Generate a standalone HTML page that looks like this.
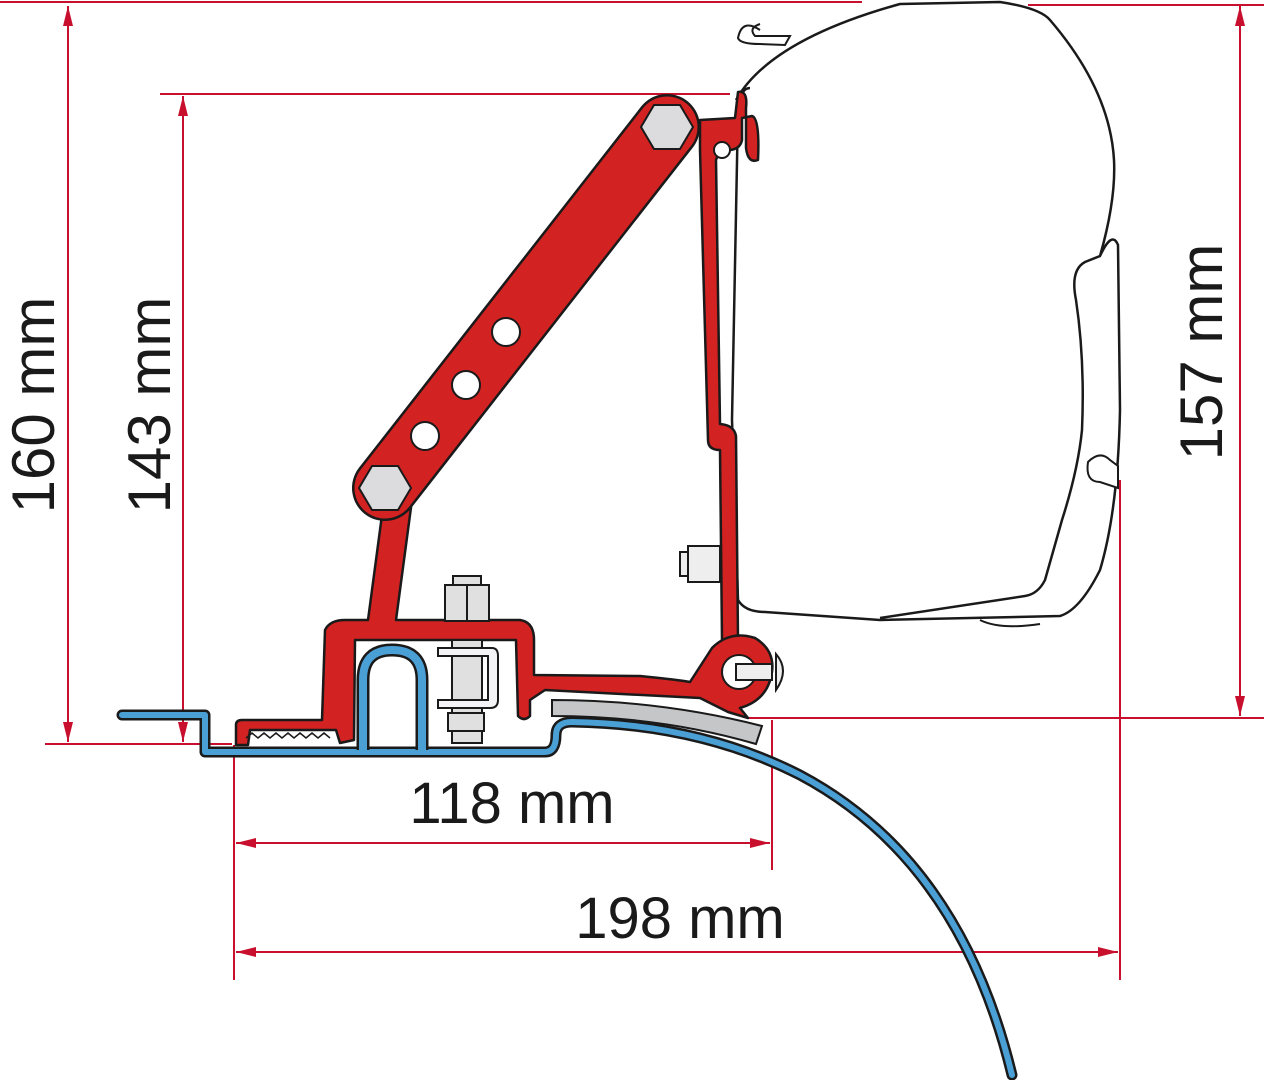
<!DOCTYPE html>
<html><head><meta charset="utf-8"><style>
html,body{margin:0;padding:0;background:#fff;width:1264px;height:1080px;overflow:hidden}
svg{display:block}
text{font-family:"Liberation Sans",Arial,sans-serif;fill:#1a1a1a}
</style></head><body>
<svg width="1264" height="1080" viewBox="0 0 1264 1080" xmlns="http://www.w3.org/2000/svg">
<defs>
<marker id="a" viewBox="0 0 20 10" refX="20" refY="5" markerWidth="20" markerHeight="10" markerUnits="userSpaceOnUse" orient="auto"><path d="M0,0 L20,5 L0,10 z" fill="#c8102e"/></marker>
</defs>
<g stroke="#c8102e" stroke-width="2" fill="none">
<line x1="0" y1="2" x2="862" y2="2"/>
<line x1="160" y1="94" x2="730" y2="94"/>
<line x1="1028" y1="5" x2="1264" y2="5"/>
<line x1="748" y1="718" x2="1264" y2="718"/>
<line x1="45" y1="744" x2="232" y2="744"/>
<line x1="234" y1="745" x2="234" y2="980"/>
<line x1="772" y1="720" x2="772" y2="870"/>
<line x1="1120" y1="480" x2="1120" y2="980"/>
<line x1="68" y1="380" x2="68" y2="6" marker-end="url(#a)"/>
<line x1="68" y1="380" x2="68" y2="742" marker-end="url(#a)"/>
<line x1="183" y1="400" x2="183" y2="96" marker-end="url(#a)"/>
<line x1="183" y1="400" x2="183" y2="742" marker-end="url(#a)"/>
<line x1="1240" y1="360" x2="1240" y2="6" marker-end="url(#a)"/>
<line x1="1240" y1="360" x2="1240" y2="716" marker-end="url(#a)"/>
<line x1="500" y1="843" x2="236" y2="843" marker-end="url(#a)"/>
<line x1="500" y1="843" x2="770" y2="843" marker-end="url(#a)"/>
<line x1="680" y1="952" x2="236" y2="952" marker-end="url(#a)"/>
<line x1="680" y1="952" x2="1118" y2="952" marker-end="url(#a)"/>
</g>
<text x="0" y="0" font-size="60" text-anchor="middle" transform="translate(54,405) rotate(-90)">160 mm</text>
<text x="0" y="0" font-size="60" text-anchor="middle" transform="translate(170,405) rotate(-90)">143 mm</text>
<text x="0" y="0" font-size="60" text-anchor="middle" transform="translate(1222,352) rotate(-90)">157 mm</text>
<text x="512" y="823" font-size="58" text-anchor="middle">118 mm</text>
<text x="680" y="938" font-size="58" text-anchor="middle">198 mm</text>

<!-- cassette -->
<path d="M750,88 Q740,88 738,110 L732,420 L738,600 Q745,612 765,612 L880,620 L1060,616 Q1080,610 1100,570 Q1118,510 1120,410 L1118,245 Q1112,230 1100,256 L1085,262 Q1070,270 1076,300 Q1085,360 1082,430 Q1078,470 1062,520 L1045,580 Q1038,594 1025,596 L880,618 M736,100 Q770,40 900,4 L1000,2 Q1040,8 1050,20 Q1110,90 1114,160 Q1116,200 1100,256" fill="#fff" stroke="#1a1a1a" stroke-width="2.5"/>
<path d="M1088,462 Q1100,450 1110,460 L1118,466 L1118,488 L1100,482 Q1085,482 1088,462 z" fill="#fff" stroke="#1a1a1a" stroke-width="2"/>
<path d="M760,30 Q742,18 738,38 Q740,44 760,44 L785,45 L790,36 L755,36 Q748,28 760,24" fill="none" stroke="#1a1a1a" stroke-width="2"/>
<path d="M980,620 Q1000,630 1040,624" fill="none" stroke="#1a1a1a" stroke-width="2"/>

<!-- bolt on bracket -->
<rect x="680" y="552" width="10" height="24" fill="#eee" stroke="#1a1a1a" stroke-width="2"/>
<rect x="688" y="546" width="32" height="36" fill="#eee" stroke="#1a1a1a" stroke-width="2"/>

<!-- vertical red bracket -->
<path d="M700,150 L708,440 Q708,450 720,450 L722,640 L738,640 L736,436 Q734,425 720,424 L716,160 Q720,148 728,150 Q740,150 742,140 L742,118 L752,116 Q760,118 758,160 Q748,164 746,148 L746,108 Q748,90 738,92 L735,118 L700,120 z" fill="#d22222" stroke="#1a1a1a" stroke-width="2.5" stroke-linejoin="round"/>
<circle cx="722" cy="150" r="8" fill="#fff" stroke="#1a1a1a" stroke-width="2"/>

<!-- red base -->
<path d="M236,725 Q236,720 242,720 L322,720 L325,630 Q330,620 345,620 L368,620 L384,500 L412,500 L396,620 L520,620 Q534,622 534,640 L534,675 L640,676 Q680,680 690,682 L712,648 Q730,630 755,638 Q775,650 772,672 Q768,700 740,708 L748,718 L728,712 L700,698 L545,690 L530,700 L530,716 Q524,722 518,716 L516,640 L355,640 L354,740 L340,743 L336,730 L250,730 L248,745 L236,745 z" fill="#d22222" stroke="#1a1a1a" stroke-width="2.5" stroke-linejoin="round"/>

<!-- arm -->
<line x1="667" y1="127" x2="385" y2="488" stroke="#1a1a1a" stroke-width="66" stroke-linecap="round"/>
<line x1="667" y1="127" x2="385" y2="488" stroke="#d22222" stroke-width="61" stroke-linecap="round"/>
<polygon points="641,127 654,105 680,105 693,127 680,149 654,149" fill="#dcdcde" stroke="#1a1a1a" stroke-width="2"/>
<polygon points="359,488 372,466 398,466 411,488 398,510 372,510" fill="#dcdcde" stroke="#1a1a1a" stroke-width="2"/>
<circle cx="506" cy="332" r="14" fill="#fff" stroke="#1a1a1a" stroke-width="2"/>
<circle cx="466" cy="385" r="14" fill="#fff" stroke="#1a1a1a" stroke-width="2"/>
<circle cx="425" cy="436" r="14" fill="#fff" stroke="#1a1a1a" stroke-width="2"/>

<!-- base bolt -->
<rect x="453" y="576" width="28" height="10" fill="#e0e0e0" stroke="#1a1a1a" stroke-width="2"/>
<rect x="445" y="585" width="44" height="36" fill="#e0e0e0" stroke="#1a1a1a" stroke-width="2"/>
<line x1="467" y1="585" x2="467" y2="621" stroke="#1a1a1a" stroke-width="2"/>

<path d="M246,738 L252,733 L258,738 L264,733 L270,738 L276,733 L282,738 L288,733 L294,738 L300,733 L306,738 L312,733 L318,738 L324,733 L330,738" fill="none" stroke="#1a1a1a" stroke-width="1.5"/>
<circle cx="739" cy="672" r="17" fill="#fff" stroke="#1a1a1a" stroke-width="2"/>
<rect x="736" y="664" width="36" height="16" fill="#eee" stroke="#1a1a1a" stroke-width="2"/>
<path d="M776,654 Q790,670 776,690 z" fill="#eee" stroke="#1a1a1a" stroke-width="2"/>

<!-- clamp -->
<rect x="452" y="640" width="30" height="103" fill="#e0e0e0" stroke="#1a1a1a" stroke-width="2"/>
<path d="M408,648 L462,648 Q468,648 468,656 L468,700 Q468,708 460,708 L408,708 L408,700 L458,700 L458,656 L408,656 z" transform="translate(30,0)" fill="#f4f4f6" stroke="#1a1a1a" stroke-width="2"/>
<rect x="448" y="713" width="36" height="18" fill="#e0e0e0" stroke="#1a1a1a" stroke-width="2"/>

<!-- grey strip -->
<path d="M552,700 Q660,700 762,726 L756,744 Q660,716 552,716 z" fill="#c4c6c8" stroke="#1a1a1a" stroke-width="2"/>

<!-- blue profile -->
<path d="M122,715 L205,715 L205,752 L545,752 Q556,752 556,735 Q556,722 572,722 Q700,724 800,775 Q960,860 1012,1075" fill="none" stroke="#1a1a1a" stroke-width="11" stroke-linecap="round" stroke-linejoin="round"/>
<path d="M122,715 L205,715 L205,752 L545,752 Q556,752 556,735 Q556,722 572,722 Q700,724 800,775 Q960,860 1012,1075" fill="none" stroke="#4a9fd4" stroke-width="6" stroke-linecap="round" stroke-linejoin="round"/>
<path d="M363,750 L363,680 Q363,650 392,650 Q422,650 422,680 L422,750" fill="none" stroke="#1a1a1a" stroke-width="13"/>
<path d="M363,750 L363,680 Q363,650 392,650 Q422,650 422,680 L422,750" fill="none" stroke="#4a9fd4" stroke-width="8"/>
</svg>
</body></html>
